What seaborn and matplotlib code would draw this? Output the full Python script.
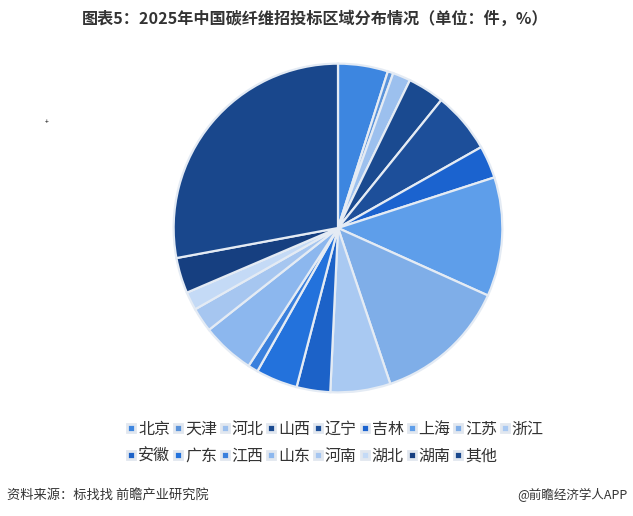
import matplotlib
matplotlib.use("Agg")
import matplotlib.pyplot as plt
from matplotlib.lines import Line2D
import seaborn as sns

regions = ["北京", "天津", "河北", "山西", "辽宁", "吉林", "上海", "江苏", "浙江",
           "安徽", "广东", "江西", "山东", "河南", "湖北", "湖南", "其他"]
shares = [4.9, 0.55, 1.75, 3.6, 6.0, 3.2, 11.7, 13.1, 5.9,
          3.3, 4.1, 1.0, 5.2, 2.4, 1.8, 3.5, 27.9]
colors = ["#3D86E0", "#5A93DA", "#9CC0EE", "#1A4A90", "#1D4F9A", "#1B63CF",
          "#5E9EEA", "#7FAEE8", "#A9C9F2", "#1C62C8", "#2372DC", "#3A80DD",
          "#8CB7EE", "#A6C6F0", "#C4DAF6", "#163F80", "#19478C"]

title = "图表5：2025年中国碳纤维招投标区域分布情况（单位：件，%）"
source = "资料来源：标找找 前瞻产业研究院"
credit = "@前瞻经济学人APP"

sns.set_theme(style="white")
plt.rcParams["font.family"] = ["Noto Sans CJK SC", "DejaVu Sans"]

palette = sns.color_palette(colors)

W, H = 633, 516
fig = plt.figure(figsize=(W / 100, H / 100), dpi=100)
fig.patch.set_facecolor("white")

cx, cy, r = 338, 228, 166
ax = fig.add_axes([(cx - r) / W, (H - cy - r) / H, 2 * r / W, 2 * r / H])
ax.pie(shares, colors=palette, startangle=90, counterclock=False,
       wedgeprops=dict(edgecolor="#E4EBF4", linewidth=1.6))
ax.set_aspect("equal")
ax.set_xlim(-1.01, 1.01)
ax.set_ylim(-1.01, 1.01)
ax.axis("off")

# legend: row-major order in 9 columns
order = []
for i in range(9):
    order.append(i)
    if i + 9 < len(regions):
        order.append(i + 9)
handles = [Line2D([0], [0], marker="s", linestyle="none", markersize=6,
                  markerfacecolor=colors[i], markeredgecolor="#E1E7EF",
                  markeredgewidth=2.0) for i in order]
labels = [regions[i] for i in order]
leg = fig.legend(handles, labels, ncol=9, loc="upper left",
                 bbox_to_anchor=(119 / W, 1 - 413 / H), frameon=False,
                 fontsize=11.5, handlelength=0.55, handletextpad=0.15,
                 columnspacing=0.22, labelspacing=0.62, borderpad=0,
                 labelcolor="#333333")

fig.text(315 / W, 1 - 19 / H, title, ha="center", va="center", fontsize=11.6,
         fontweight="bold", color="#333333")
fig.text(7 / W, 1 - 495 / H, source, ha="left", va="center", fontsize=9.5,
         color="#333333")
fig.text(627 / W, 1 - 495 / H, credit, ha="right", va="center", fontsize=9,
         color="#333333")
fig.text(47 / W, 1 - 122 / H, "+", ha="center", va="center", fontsize=5,
         color="black")

fig.savefig("out.png", dpi=100, facecolor="white")
